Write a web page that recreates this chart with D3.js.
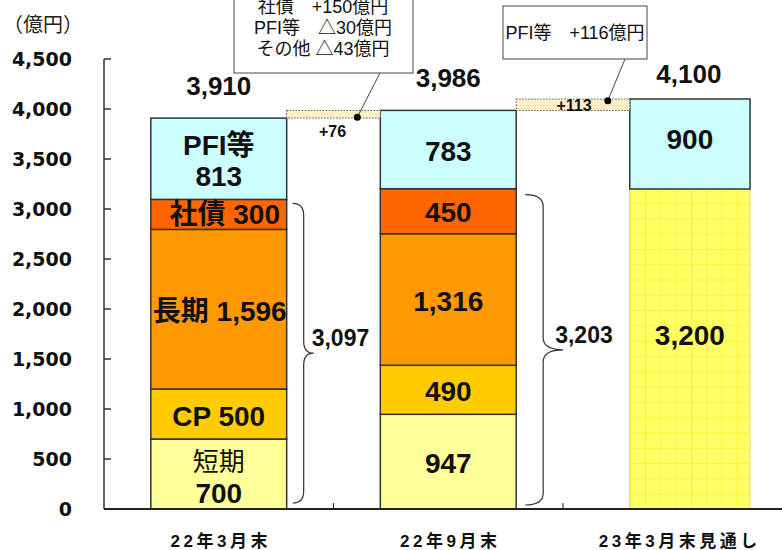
<!DOCTYPE html>
<html><head><meta charset="utf-8">
<script src="https://cdn.jsdelivr.net/npm/d3@7"></script>
<style>body{margin:0;background:#fff}svg{display:block}</style>
</head><body>
<svg id="c" width="782" height="550"></svg>
<script>
// ---------- data ----------
const categories = ["22年3月末", "22年9月末", "23年3月末見通し"];
const seriesKeys = ["短期", "CP", "長期", "社債", "借入等", "PFI等"];
const shortTerm = [700, 947, 0];
const cpValues = [500, 490, 0];
const longTerm = [1596, 1316, 0];
const bonds = [300, 450, 0];
const forecastBorrow = [0, 0, 3200];
const pfiValues = [813, 783, 900];
const totals = [3910, 3986, 4100];
const bridgeValues = [76, 113];
const subtotals = [3097, 3203];
const yTicks = [0, 500, 1000, 1500, 2000, 2500, 3000, 3500, 4000, 4500];
const callout1Lines = ["社債　+150億円", "PFI等　△30億円", "その他 △43億円"];
const callout2Lines = ["PFI等　+116億円"];
const unitLabel = "（億円）";

// ---------- setup ----------
const svg = d3.select("#c");
const W = 782, H = 550;
const JP = "'Liberation Sans','Noto Sans CJK JP',sans-serif";
const colors = {"短期": "#FFFF99", "CP": "#FFCC00", "長期": "#FF9900", "社債": "#FF6600", "借入等": "url(#yellowGrid)", "PFI等": "#CCFFFF"};

const y = d3.scaleLinear().domain([0, 4500]).range([509, 59]);
const x = d3.scaleBand().domain(categories).range([104, 792.5]).paddingInner(0).paddingOuter(0);
const bw = x.bandwidth();

// bar geometry (layout)
function barX0(i) {
  const c = x(categories[i]) + bw / 2;
  if (i === 2) return c + bw * 0.053 - bw * 0.262;
  return c - bw * 0.296;
}
function barX1(i) {
  const c = x(categories[i]) + bw / 2;
  if (i === 2) return c + bw * 0.053 + bw * 0.262;
  return c + bw * 0.296;
}
function barCx(i) { return (barX0(i) + barX1(i)) / 2; }

// patterns
const defs = svg.append("defs");
const p1 = defs.append("pattern").attr("id", "yellowGrid").attr("patternUnits", "userSpaceOnUse")
  .attr("width", 15.3).attr("height", 15.3).attr("x", barX0(2)).attr("y", y(0));
p1.append("rect").attr("width", 15.3).attr("height", 15.3).attr("fill", "#FFFF66");
p1.append("path").attr("d", "M0,0H15.3M0,0V15.3").attr("stroke", "#EDE200").attr("stroke-width", 0.8).attr("fill", "none");
const p2 = defs.append("pattern").attr("id", "peachGrid").attr("patternUnits", "userSpaceOnUse")
  .attr("width", 15).attr("height", 15).attr("x", 287).attr("y", 0);
p2.append("rect").attr("width", 15).attr("height", 15).attr("fill", "#FFF0C8");
p2.append("path").attr("d", "M0,0H15M0,0V15").attr("stroke", "#F3D9A6").attr("stroke-width", 0.8).attr("fill", "none");

// ---------- stack ----------
const rows = categories.map((c, i) => ({
  cat: c, "短期": shortTerm[i], "CP": cpValues[i], "長期": longTerm[i],
  "社債": bonds[i], "借入等": forecastBorrow[i], "PFI等": pfiValues[i]
}));
const stacked = d3.stack().keys(seriesKeys)(rows);

// ---------- axes ----------
svg.append("text").attr("x", 3).attr("y", 32).attr("font-family", "'Noto Sans CJK JP',sans-serif")
  .attr("font-size", 20).attr("fill", "#222").text(unitLabel);

const ax = svg.append("g");
ax.append("line").attr("x1", 104).attr("x2", 104).attr("y1", y(4500)).attr("y2", y(0))
  .attr("stroke", "#333").attr("stroke-width", 1.5);
ax.selectAll("line.tk").data(yTicks).join("line").attr("class", "tk")
  .attr("x1", 104).attr("x2", 111).attr("y1", d => y(d)).attr("y2", d => y(d))
  .attr("stroke", "#333").attr("stroke-width", 1.5);
ax.selectAll("text").data(yTicks).join("text")
  .attr("x", 72).attr("y", d => y(d) + 7).attr("text-anchor", "end")
  .attr("font-family", "'DejaVu Sans',sans-serif").attr("font-weight", "bold").attr("font-size", 19)
  .attr("fill", "#111").text(d => d3.format(",")(d));

// ---------- bars ----------
const gBars = svg.append("g");
stacked.forEach(layer => {
  layer.forEach((seg, i) => {
    if (seg[1] - seg[0] <= 0) return;
    const isForecast = layer.key === "借入等";
    gBars.append("rect")
      .attr("x", barX0(i)).attr("width", barX1(i) - barX0(i))
      .attr("y", y(seg[1])).attr("height", y(seg[0]) - y(seg[1]))
      .attr("fill", colors[layer.key])
      .attr("stroke", isForecast ? "#D8D060" : "#333")
      .attr("stroke-width", isForecast ? 0.8 : 1.5);
  });
});

// bridges
const gBr = svg.append("g");
bridgeValues.forEach((v, i) => {
  const x0 = barX1(i), x1 = barX0(i + 1);
  const yb = y(totals[i]), yt = y(totals[i] + v);
  gBr.append("rect").attr("x", x0).attr("width", x1 - x0).attr("y", yt).attr("height", yb - yt)
    .attr("fill", "url(#peachGrid)").attr("stroke", "#555").attr("stroke-width", 1)
    .attr("stroke-dasharray", "1.5,1.5");
});

// segment labels
const gLab = svg.append("g").attr("font-family", JP).attr("fill", "#111").attr("text-anchor", "middle");
const fmt = d3.format(",");
function segCenter(key, i) {
  const layer = stacked.find(l => l.key === key)[i];
  return y((layer[0] + layer[1]) / 2);
}
function label(xp, yp, txt, size, weight) {
  gLab.append("text").attr("x", xp).attr("y", yp).attr("dy", "0.36em")
    .attr("font-size", size).attr("font-weight", weight || "bold").text(txt);
}
// bar 1 (named labels)
label(barCx(0), segCenter("短期", 0) - 12, "短期", 26, "normal");
label(barCx(0), segCenter("短期", 0) + 19, fmt(shortTerm[0]), 28);
label(barCx(0), segCenter("CP", 0) + 2, "CP " + fmt(cpValues[0]), 28);
label(barCx(0) + 1, segCenter("長期", 0) + 2, "長期 " + fmt(longTerm[0]), 28);
label(barCx(0) + 6, segCenter("社債", 0), "社債 " + fmt(bonds[0]), 28);
label(barCx(0), segCenter("PFI等", 0) - 14, "PFI等", 28);
label(barCx(0), segCenter("PFI等", 0) + 17, fmt(pfiValues[0]), 28);
// bar 2
["短期", "CP", "長期", "社債", "PFI等"].forEach(k => {
  const v = rows[1][k];
  label(barCx(1), segCenter(k, 1) + 1, fmt(v), 28);
});
// bar 3
label(barCx(2), segCenter("借入等", 2) - 14, fmt(forecastBorrow[2]), 28);
label(barCx(2), segCenter("PFI等", 2) - 5, fmt(pfiValues[2]), 28);

// totals
totals.forEach((t, i) => {
  const top = stacked[stacked.length - 1][i][1];
  gLab.append("text").attr("x", barCx(i) + (i === 2 ? -1 : 0)).attr("y", y(top) - (i === 2 ? 16 : 23))
    .attr("font-size", 26).attr("font-weight", "bold").text(fmt(t));
});

// bridge labels
gLab.append("text").attr("x", (barX1(0) + barX0(1)) / 2 - 1).attr("y", y(totals[0]) + 19)
  .attr("font-size", 16).attr("font-weight", "bold").text("+" + bridgeValues[0]);
gLab.append("text").attr("x", (barX1(1) + barX0(2)) / 2 + 1).attr("y", (y(totals[1]) + y(totals[1] + bridgeValues[1])) / 2)
  .attr("dy", "0.36em").attr("font-size", 16).attr("font-weight", "bold").text("+" + bridgeValues[1]);

// braces
function brace(x0, x1, x2, yTop, yBot) {
  const yMid = (yTop + yBot) / 2, r = 12;
  const p = d3.path();
  p.moveTo(x0, yTop);
  p.quadraticCurveTo(x1, yTop, x1, yTop + r);
  p.lineTo(x1, yMid - r);
  p.quadraticCurveTo(x1, yMid, x2, yMid);
  p.quadraticCurveTo(x1, yMid, x1, yMid + r);
  p.lineTo(x1, yBot - r);
  p.quadraticCurveTo(x1, yBot, x0, yBot);
  svg.append("path").attr("d", p.toString()).attr("fill", "none").attr("stroke", "#333").attr("stroke-width", 1.2);
  return yMid;
}
const b1 = brace(barX1(0) + 6, barX1(0) + 17, barX1(0) + 27, y(subtotals[0]) + 4, y(0) - 6);
gLab.append("text").attr("x", barX1(0) + 25).attr("y", b1 - 7).attr("text-anchor", "start")
  .attr("font-size", 23).attr("font-weight", "bold").text(fmt(subtotals[0]));
const b2 = brace(barX1(1) + 9, barX1(1) + 27, barX1(1) + 47, y(subtotals[1]) + 6, y(0) - 4);
gLab.append("text").attr("x", barX1(1) + 39).attr("y", b2 - 7).attr("text-anchor", "start")
  .attr("font-size", 23).attr("font-weight", "bold").text(fmt(subtotals[1]));

// baseline + category boundary ticks
svg.append("line").attr("x1", 104).attr("x2", W).attr("y1", y(0)).attr("y2", y(0))
  .attr("stroke", "#222").attr("stroke-width", 1.8);
svg.selectAll("line.ct").data(categories.slice(1)).join("line").attr("class", "ct")
  .attr("x1", d => x(d)).attr("x2", d => x(d)).attr("y1", y(0)).attr("y2", y(0) - 6)
  .attr("stroke", "#333").attr("stroke-width", 1.2);

// category labels
svg.selectAll("text.cat").data(categories).join("text").attr("class", "cat")
  .attr("x", d => x(d) + bw / 2 + 2).attr("y", 547).attr("text-anchor", "middle")
  .attr("font-family", JP).attr("font-weight", "bold").attr("font-size", 17)
  .attr("letter-spacing", "3.5px").attr("fill", "#111").text(d => d);

// ---------- callouts ----------
const gC = svg.append("g").attr("font-family", JP).attr("font-size", 18).attr("fill", "#111");
// callout 1
const dot1 = {x: barX0(1) - 23, y: (y(totals[0]) + y(totals[0] + bridgeValues[0])) / 2 + 3};
gC.append("line").attr("x1", 380).attr("y1", 73).attr("x2", dot1.x).attr("y2", dot1.y).attr("stroke", "#444").attr("stroke-width", 1);
gC.append("rect").attr("x", 234).attr("y", -6).attr("width", 179).attr("height", 79)
  .attr("fill", "#fff").attr("stroke", "#444").attr("stroke-width", 1);
callout1Lines.forEach((t, k) => {
  gC.append("text").attr("x", 323).attr("y", 13 + k * 21).attr("text-anchor", "middle")
    .style("white-space", "pre").text(t);
});
gC.append("circle").attr("cx", dot1.x).attr("cy", dot1.y).attr("r", 3.5).attr("fill", "#000");
// callout 2
const dot2 = {x: barX0(2) - 22, y: (y(totals[1]) + y(totals[1] + bridgeValues[1])) / 2 - 4};
gC.append("line").attr("x1", 625).attr("y1", 59).attr("x2", dot2.x).attr("y2", dot2.y).attr("stroke", "#444").attr("stroke-width", 1);
gC.append("rect").attr("x", 503).attr("y", 6).attr("width", 144).attr("height", 53)
  .attr("fill", "#fff").attr("stroke", "#444").attr("stroke-width", 1);
callout2Lines.forEach((t, k) => {
  gC.append("text").attr("x", 575).attr("y", 39).attr("text-anchor", "middle")
    .style("white-space", "pre").text(t);
});
gC.append("circle").attr("cx", dot2.x).attr("cy", dot2.y).attr("r", 3.5).attr("fill", "#000");
</script>
</body></html>
